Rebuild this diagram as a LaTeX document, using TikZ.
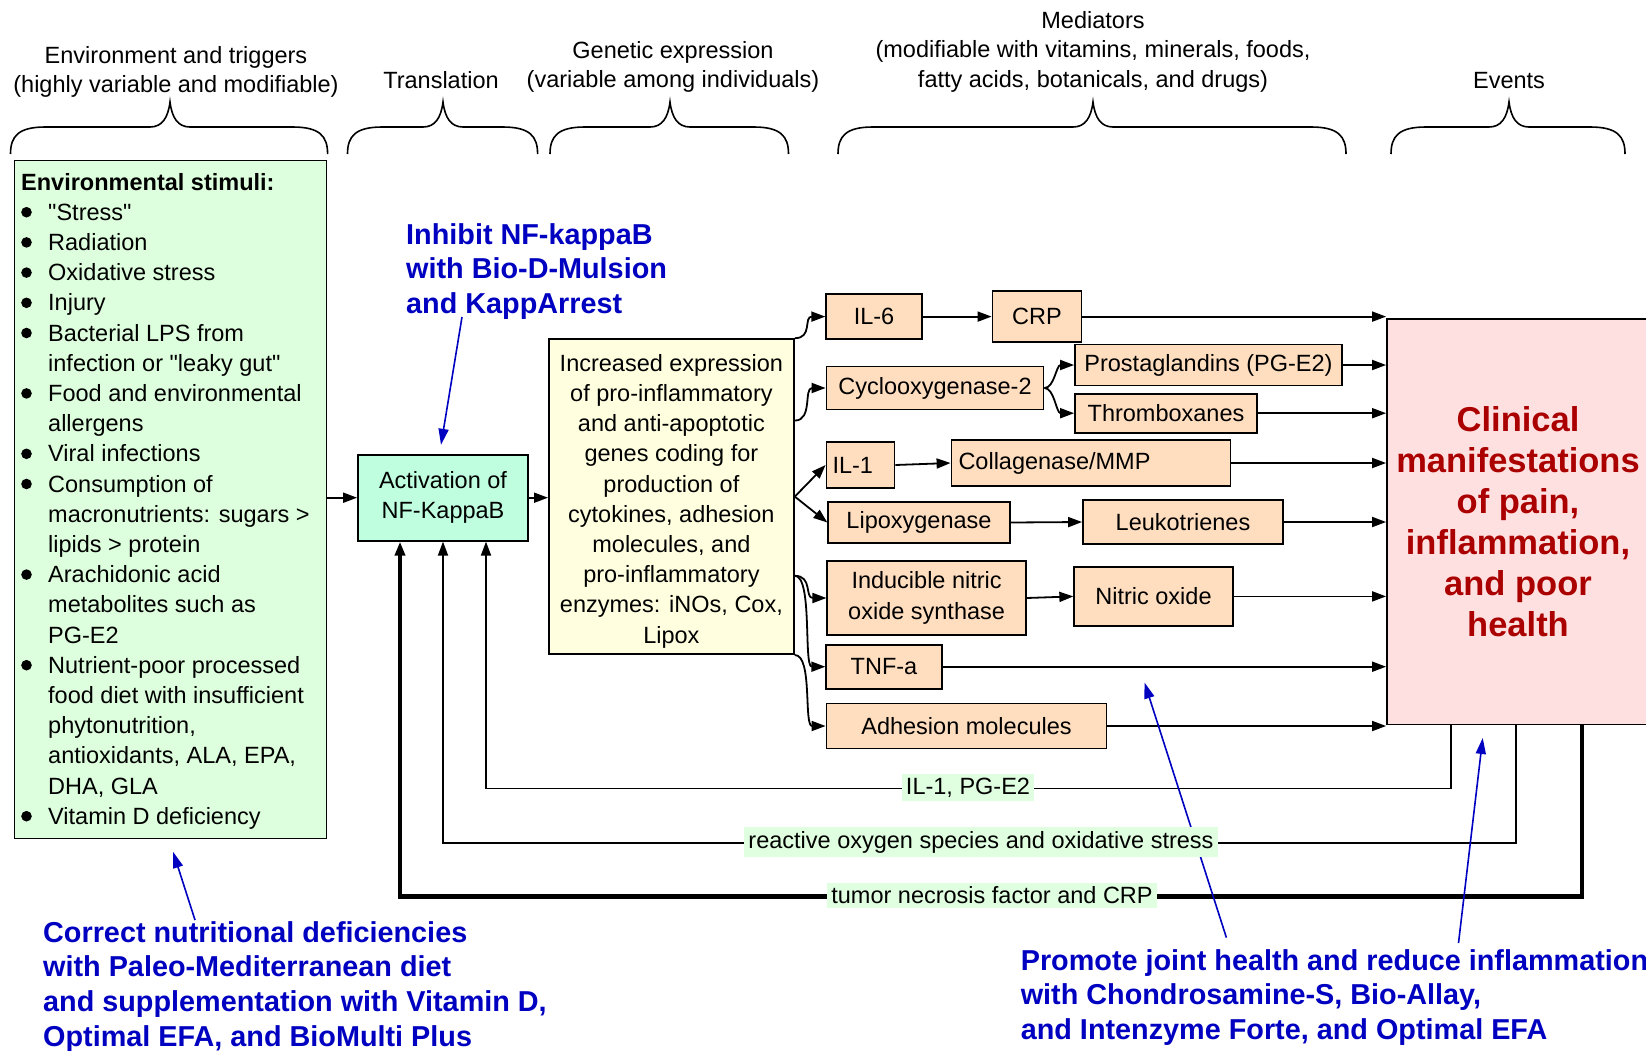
\documentclass[tikz,border=0pt]{standalone}
\usepackage{fontspec}
\setmainfont{Liberation Sans}
\newfontfamily\qf{Liberation Sans}
\usetikzlibrary{arrows.meta,calc}
\definecolor{envg}{RGB}{221,255,221}
\definecolor{actg}{RGB}{191,255,223}
\definecolor{yelb}{RGB}{255,255,224}
\definecolor{peach}{RGB}{255,222,191}
\definecolor{pinkb}{RGB}{255,224,224}
\definecolor{dred}{RGB}{170,0,0}
\definecolor{blu}{RGB}{0,0,192}
\definecolor{lblg}{RGB}{224,255,224}
\newcommand\dq{{\qf\symbol{34}}}
\newcommand\ind{\hspace*{27pt}}
\newcommand\hbrace[3]{\draw[brace] (#1,154) .. controls (#1,136) and (#1+8,127) .. (#1+35,127) -- (#2-20,127) .. controls (#2-8,127) and (#2-2,118) .. (#2,102) .. controls (#2+2,118) and (#2+8,127) .. (#2+20,127) -- (#3-35,127) .. controls (#3-8,127) and (#3,136) .. (#3,154);}
\begin{document}
\begin{tikzpicture}[x=1pt,y=-1pt,
 txt/.style={font=\fontsize{23.5}{30.2}\selectfont},
 box/.style={draw=black, line width=1.8pt, inner sep=0pt, align=center, txt},
 obox/.style={box, fill=peach},
 con/.style={line width=1.8pt, -{Triangle[length=14pt,width=10pt]}},
 bluearrow/.style={draw=blu, line width=1.6pt, -{Triangle[length=16pt,width=10pt]}},
 bluetxt/.style={text=blu, font=\fontsize{28.8}{34.7}\selectfont\bfseries, inner sep=0pt, anchor=base west},
 lbl/.style={fill=lblg, inner sep=4pt, font=\fontsize{23.5}{28}\selectfont},
 brace/.style={line width=1.6pt},
 hdr/.style={inner sep=0pt, anchor=base, font=\fontsize{23.5}{29.7}\selectfont}
]
\useasboundingbox (0,0) rectangle (1646,1050);
\clip (0,0) rectangle (1646,1050);

% headers
\node[hdr] (hEnv) at (176,63) {\begin{tabular}[t]{@{}c@{}}Environment and triggers\\(highly variable and modifiable)\end{tabular}};
\node[hdr] (hTr) at (441,88) {Translation};
\node[hdr] (hGen) at (673,58) {\begin{tabular}[t]{@{}c@{}}Genetic expression\\(variable among individuals)\end{tabular}};
\node[hdr] (hMed) at (1093,28) {\begin{tabular}[t]{@{}c@{}}Mediators\\(modifiable with vitamins, minerals, foods,\\fatty acids, botanicals, and drugs)\end{tabular}};
\node[hdr] (hEv) at (1509,88) {Events};
\hbrace{10.5}{170}{327.6}
\hbrace{347.5}{443}{537.6}
\hbrace{550}{670}{788.5}
\hbrace{838}{1093}{1346}
\hbrace{1391}{1509}{1625}

% boxes
\node[draw, line width=1.8pt, fill=envg, anchor=north west, minimum width=312pt, minimum height=678pt, inner sep=0pt] (env) at (13.65,159.6) {};
\node[inner sep=0pt, anchor=base west, txt] (envtxt) at (21,190) {\begin{tabular}[t]{@{}l@{}}
\textbf{Environmental stimuli:}\\
\ind \dq Stress\dq\\
\ind Radiation\\
\ind Oxidative stress\\
\ind Injury\\
\ind Bacterial LPS from\\
\ind infection or \dq leaky gut\dq\\
\ind Food and environmental\\
\ind allergens\\
\ind Viral infections\\
\ind Consumption of\\
\ind macronutrients: sugars >\\
\ind lipids > protein\\
\ind Arachidonic acid\\
\ind metabolites such as\\
\ind PG-E2\\
\ind Nutrient-poor processed\\
\ind food diet with insufficient\\
\ind phytonutrition,\\
\ind antioxidants, ALA, EPA,\\
\ind DHA, GLA\\
\ind Vitamin D deficiency
\end{tabular}};
\foreach \k in {1,2,3,4,5,7,9,10,13,16,21}
  \fill (26.5,190+\k*30.2-8) circle (5.3);

\node[box, fill=actg, minimum width=170pt, minimum height=86pt] (act) at (443,497.7) {Activation of\\NF-KappaB};
\node[box, fill=yelb, minimum width=245pt, minimum height=315pt] (yel) at (671.4,496.6) {\rule{0pt}{26pt}Increased expression\\of pro-inflammatory\\and anti-apoptotic\\genes coding for\\production of\\cytokines, adhesion\\molecules, and\\pro-inflammatory\\enzymes: iNOs, Cox,\\Lipox};

\node[obox, minimum width=95.5pt, minimum height=45pt] (il6) at (874,316.6) {IL-6};
\node[obox, minimum width=89pt, minimum height=51pt] (crp) at (1037,316.6) {CRP};
\node[obox, minimum width=217pt, minimum height=43pt] (cox) at (935,388) {Cyclooxygenase-2};
\node[obox, minimum width=267pt, minimum height=41pt] (pg) at (1208.5,365) {Prostaglandins (PG-E2)};
\node[obox, minimum width=182pt, minimum height=39pt] (tx) at (1166,413.2) {Thromboxanes};
\node[obox, minimum width=68pt, minimum height=46pt] (il1) at (860.5,465) {\makebox[56pt][l]{IL-1}};
\node[obox, minimum width=279pt, minimum height=46pt] (coll) at (1091,463) {\makebox[265pt][l]{Collagenase/MMP}};
\node[obox, minimum width=181.5pt, minimum height=41pt] (lox) at (919,522.5) {Lipoxygenase};
\node[obox, minimum width=200pt, minimum height=44pt] (leuk) at (1183,522) {Leukotrienes};
\node[obox, minimum width=198.5pt, minimum height=74.6pt] (inos) at (926.6,598) {Inducible nitric\\oxide synthase};
\node[obox, minimum width=158.5pt, minimum height=59pt] (no) at (1153.5,596.4) {Nitric oxide};
\node[obox, minimum width=115.5pt, minimum height=44pt] (tnf) at (884,666.7) {TNF-a};
\node[obox, minimum width=280pt, minimum height=45pt] (adh) at (966.5,726) {Adhesion molecules};

\node[box, fill=pinkb, minimum width=262pt, minimum height=405.3pt, text=dred, font=\fontsize{34.5}{41}\selectfont\bfseries] (clin) at (1518,521.9) {Clinical\\manifestations\\of pain,\\inflammation,\\and poor\\health};

% connectors
\draw[con] (env.east |- act.west) -- (act.west);
\draw[con] (act.east) -- (yel.west |- act.east);
\draw[con] (yel.north east) .. controls +(18,0) and +(-22,0) .. (il6.west);
\coordinate (y1) at ($(yel.north east)!0.26!(yel.south east)$);
\draw[con] (y1) .. controls +(18,0) and +(-22,0) .. (cox.west);
\draw[con] (yel.east) -- (il1.west);
\draw[con] (yel.east) -- (lox.west);
\coordinate (y2) at ($(yel.north east)!0.75!(yel.south east)$);
\draw[con] (y2) .. controls +(18,0) and +(-22,0) .. (inos.west);
\draw[con] (y2) .. controls +(18,0) and +(-22,0) .. (tnf.west);
\draw[con] (yel.south east) .. controls +(18,0) and +(-22,0) .. (adh.west);
\draw[con] (il6.east) -- (crp.west);
\draw[con] (cox.east) .. controls +(10,0) and +(-18,0) .. (pg.west);
\draw[con] (cox.east) .. controls +(10,0) and +(-18,0) .. (tx.west);
\draw[con] (il1.east) -- (coll.west);
\draw[con] (lox.east) -- (leuk.west);
\draw[con] (inos.east) -- (no.west);
\foreach \n in {crp,pg,tx,coll,leuk,no,tnf,adh} \draw[con] (\n.east) -- (\n.east -| clin.west);

% feedback
\coordinate (fb1) at ($(clin.south west)+(65,0)$);
\coordinate (fb2) at ($(clin.south west)+(130,0)$);
\coordinate (fb3) at ($(clin.south west)+(196,0)$);
\draw[con] (fb1) -- ++(0,63) -| ($(act.south)+(43,0)$);
\draw[con] (fb2) -- ++(0,117.5) -| (act.south);
\draw[con, line width=4.5pt] (fb3) -- ++(0,171) -| ($(act.south)+(-43,0)$);

% blue annotations
\node[bluetxt] (inh) at (406,244) {\begin{tabular}[t]{@{}l@{}}Inhibit NF-kappaB\\with Bio-D-Mulsion\\and KappArrest\end{tabular}};
\node[bluetxt] (corr) at (43,942) {\begin{tabular}[t]{@{}l@{}}Correct nutritional deficiencies\\with Paleo-Mediterranean diet\\and supplementation with Vitamin D,\\Optimal EFA, and BioMulti Plus\end{tabular}};
\node[bluetxt] (prom) at (1020.6,970) {\begin{tabular}[t]{@{}l@{}}Promote joint health and reduce inflammation\\with Chondrosamine-S, Bio-Allay,\\and Intenzyme Forte, and Optimal EFA\end{tabular}};
\coordinate (ia) at (462,317);
\coordinate (ib) at ($(act.north)+(-2,-9)$);
\coordinate (ca) at (195,920);
\coordinate (cb) at ($(env.south west)+(159.5,12.5)$);
\coordinate (pa1) at (1226.4,937.6);
\coordinate (pb1) at (1144.5,682.5);
\coordinate (pa2) at (1458.5,943);
\coordinate (pb2) at ($(clin.south west)+(96.6,12.5)$);
\draw[bluearrow] (ia) -- (ib);
\draw[bluearrow] (ca) -- (cb);
\draw[bluearrow] (pa1) -- (pb1);
\draw[bluearrow] (pa2) -- (pb2);

% labels on feedback lines
\node[lbl] (l1) at (968,787.5) {IL-1, PG-E2};
\node[lbl] (l2) at (981,842) {reactive oxygen species and oxidative stress};
\node[lbl] (l3) at (992,895.5) {tumor necrosis factor and CRP};
\end{tikzpicture}
\end{document}
